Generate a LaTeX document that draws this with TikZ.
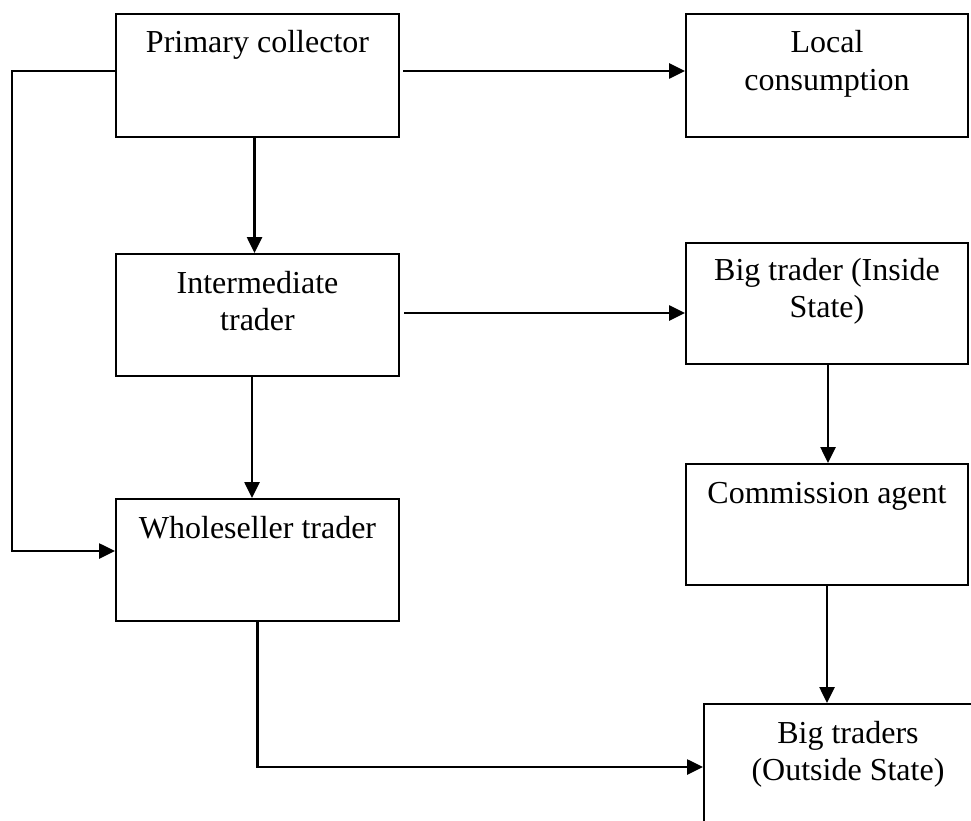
\documentclass[tikz,border=0pt]{standalone}
\usepackage{fontspec}
\setmainfont{Liberation Serif}
\usetikzlibrary{arrows.meta}
\begin{document}
\begin{tikzpicture}[x=1pt,y=-1pt,
  box/.style={draw, line width=2pt, inner sep=0pt, anchor=north west},
  lbl/.style={anchor=base, inner sep=0pt, font=\fontsize{32}{37.5}\selectfont},
  arr/.style={line width=2.6pt, -{Triangle[length=16pt,width=15pt]}},
  ln/.style={line width=2.6pt}]
\useasboundingbox (0,0) rectangle (971,821);
\clip (0,0) rectangle (971,821);
% boxes
\node[box, minimum width=283pt, minimum height=123pt] (pc) at (115,13) {};
\node[box, minimum width=282pt, minimum height=123pt] (lc) at (685,13) {};
\node[box, minimum width=283pt, minimum height=122pt] (it) at (115,253) {};
\node[box, minimum width=282pt, minimum height=121pt] (bi) at (685,242) {};
\node[box, minimum width=282pt, minimum height=121pt] (ca) at (685,463) {};
\node[box, minimum width=283pt, minimum height=122pt] (ws) at (115,498) {};
\node[box, minimum width=288pt, minimum height=122pt] (bo) at (703,703) {};
% labels
\node[lbl] (pct) at ([yshift=-40pt]pc.north) {\begin{tabular}[t]{@{}c@{}}Primary collector\end{tabular}};
\node[lbl] (lct) at ([yshift=-40pt]lc.north) {\begin{tabular}[t]{@{}c@{}}Local\\consumption\end{tabular}};
\node[lbl] (itt) at ([yshift=-40pt]it.north) {\begin{tabular}[t]{@{}c@{}}Intermediate\\trader\end{tabular}};
\node[lbl] (bit) at ([yshift=-38pt]bi.north) {\begin{tabular}[t]{@{}c@{}}Big trader (Inside\\State)\end{tabular}};
\node[lbl] (cat) at ([yshift=-40pt]ca.north) {\begin{tabular}[t]{@{}c@{}}Commission agent\end{tabular}};
\node[lbl] (wst) at ([yshift=-40pt]ws.north) {\begin{tabular}[t]{@{}c@{}}Wholeseller trader\end{tabular}};
\node[lbl] (bot) at ([yshift=-40pt]bo.north) {\begin{tabular}[t]{@{}c@{}}Big traders\\(Outside State)\end{tabular}};
% connectors
\draw[arr] ([xshift=3pt,yshift=-58pt]pc.north east) -- ([yshift=-58pt]lc.north west);
\draw[arr] ([xshift=-3pt]pc.south) -- ([xshift=-3pt]it.north);
\draw[arr] ([xshift=4pt,yshift=-60pt]it.north east) -- ([yshift=-71pt]bi.north west);
\draw[arr] ([xshift=-5.5pt]it.south) -- ([xshift=-5.5pt]ws.north);
\draw[arr] ([xshift=1pt]bi.south) -- ([xshift=1pt]ca.north);
\draw[arr] (ca.south) -- (ca.south |- bo.north);
\coordinate (lft) at (12,71);
\draw[arr] ([yshift=-58pt]pc.north west) -- (lft) |- ([yshift=-53pt]ws.north west);
\draw[arr] (ws.south) |- ([yshift=-64pt]bo.north west);
\end{tikzpicture}
\end{document}
